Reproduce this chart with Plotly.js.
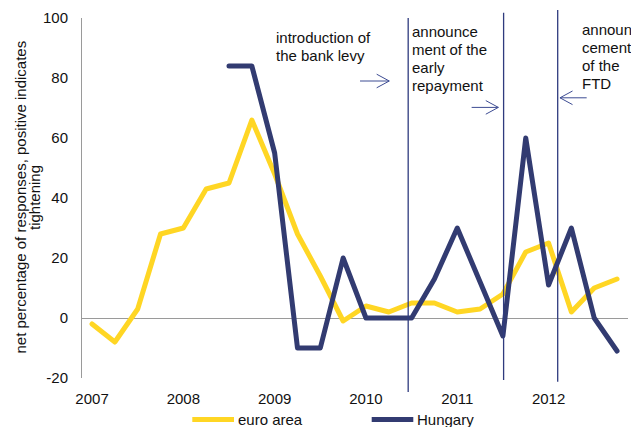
<!DOCTYPE html>
<html>
<head>
<meta charset="utf-8">
<script src="https://cdn.plot.ly/plotly-3.0.1.min.js"></script>
<style>
html,body{margin:0;padding:0;background:#fff;}
#chart{width:631px;height:427px;}
.scatterlayer path.js-line{stroke-linejoin:round !important;stroke-linecap:round !important;}
</style>
</head>
<body>
<div id="chart"></div>
<script>
// quarterly observations 2007 Q1 ... 2012 Q4 (index 0..23)
const quarterIndex = [0,1,2,3,4,5,6,7,8,9,10,11,12,13,14,15,16,17,18,19,20,21,22,23];
const euroArea = [-2,-8,3,28,30,43,45,66,48,28,14,-1,4,2,5,5,2,3,8,22,25,2,10,13];
const hungary  = [null,null,null,null,null,null,84,84,55,-10,-10,20,0,0,0,13,30,12,-6,60,11,30,0,-11];
const seriesNames = ['euro area','Hungary'];
const yearTickPos = [0,4,8,12,16,20];
const yearTickText = ['2007','2008','2009','2010','2011','2012'];
const yTickVals = [-20,0,20,40,60,80,100];
const yTickText = ['-20','0','20','40','60','80','100'];
const yTitleLines = ['net percentage of responses, positive indicates','tightening'];

// event markers (position on quarter axis)
const eventX = [13.85, 18.03, 20.4];
const eventLabels = [
  ['introduction of','the bank levy'],
  ['announce','ment of the','early','repayment'],
  ['announ','cement','of the','FTD']
];

const YELLOW = '#FFD624';
const NAVY = '#323B71';
const LINECOL = '#2F3B7E';
const ARROWCOL = '#3D4C93';

// layout geometry (pixels)
const W = 631, H = 427;
const M = {l:82, r:3, t:18, b:49};
const PW = W - M.l - M.r, PH = H - M.t - M.b;
const px = x => (x - M.l) / PW;
const py = y => (H - M.b - y) / PH;

const traces = [
  {x: quarterIndex, y: euroArea, name: seriesNames[0], type:'scatter', mode:'lines',
   line:{color:YELLOW, width:5}, showlegend:false, hoverinfo:'skip'},
  {x: quarterIndex, y: hungary, name: seriesNames[1], type:'scatter', mode:'lines',
   line:{color:NAVY, width:5}, showlegend:false, connectgaps:false, hoverinfo:'skip'}
];

const shapes = [];
// vertical event lines (extend slightly beyond plot area)
const vTops = [18, 12.7, 10];
const vBottoms = [392, 380, 381.7];
eventX.forEach((ex, i) => {
  shapes.push({type:'line', xref:'x', yref:'paper', x0:ex, x1:ex, y0:py(vBottoms[i]), y1:py(vTops[i]),
    line:{color:LINECOL, width:1.3}});
});
// arrows: [y value, tail x, tip x]
const arrows = [[79, 11.74, 13.02],[70.2, 16.63, 17.8],[73.4, 21.67, 20.5]];
const headDx = 0.55, headDy = 2.27;
arrows.forEach(a => {
  const [yv, x0, x1] = a;
  const dir = x1 > x0 ? 1 : -1;
  shapes.push({type:'line', xref:'x', yref:'y', x0:x0, x1:x1, y0:yv, y1:yv, line:{color:ARROWCOL, width:1}});
  const bx = x1 - dir*headDx;
  shapes.push({type:'path', xref:'x', yref:'y',
    path:`M${bx},${yv+headDy} L${x1},${yv} L${bx},${yv-headDy}`, line:{color:ARROWCOL, width:1}});
});

const annotations = [];
const textFont = {family:'Liberation Sans, Arial, sans-serif', size:15, color:'#111'};
// event label text: left x px, first line center px, line spacing px
const labelPos = [[275, 37.5, 18.3],[411.3, 31.5, 18],[580.5, 29.8, 17.8]];
eventLabels.forEach((lines, i) => {
  const [lx, cy, sp] = labelPos[i];
  lines.forEach((t, j) => {
    annotations.push({text:t, xref:'paper', yref:'paper', x:px(lx), y:py(cy + j*sp),
      xanchor:'left', yanchor:'middle', showarrow:false, borderpad:0, font:textFont});
  });
});
// y axis title (two rotated lines)
const yTitleX = [19.5, 34];
yTitleLines.forEach((t, j) => {
  annotations.push({text:t, xref:'paper', yref:'paper', x:px(yTitleX[j]), y:py(197),
    xanchor:'center', yanchor:'middle', textangle:-90, showarrow:false, borderpad:0, font:textFont});
});
// legend (drawn manually)
const legendItems = [[192.3, 234, 237, YELLOW],[371.7, 413.3, 416, NAVY]];
legendItems.forEach((it, i) => {
  shapes.push({type:'line', xref:'paper', yref:'paper', x0:px(it[0]), x1:px(it[1]), y0:py(419.5), y1:py(419.5),
    line:{color:it[3], width:5}});
  annotations.push({text:seriesNames[i], xref:'paper', yref:'paper', x:px(it[2]), y:py(419.5),
    xanchor:'left', yanchor:'middle', showarrow:false, borderpad:0, font:textFont});
});

const layout = {
  width:W, height:H,
  margin:{l:M.l, r:M.r, t:M.t, b:M.b, pad:0},
  paper_bgcolor:'#fff', plot_bgcolor:'#fff',
  showlegend:false,
  font:textFont,
  xaxis:{range:[-0.44, 23.48], tickvals:yearTickPos, ticktext:yearTickText, showgrid:false,
    zeroline:false, showline:false, ticks:'', ticklabelstandoff:10, tickfont:textFont, fixedrange:true},
  yaxis:{range:[-20,100], tickvals:yTickVals, ticktext:yTickText, showgrid:false, zeroline:true, zerolinecolor:'#9a9a9a',
    zerolinewidth:1, showline:true, linecolor:'#9a9a9a', linewidth:1, ticks:'', ticklabelstandoff:10,
    tickfont:textFont, fixedrange:true},
  shapes:shapes,
  annotations:annotations
};

Plotly.newPlot('chart', traces, layout, {staticPlot:true, displayModeBar:false});
</script>
</body>
</html>
